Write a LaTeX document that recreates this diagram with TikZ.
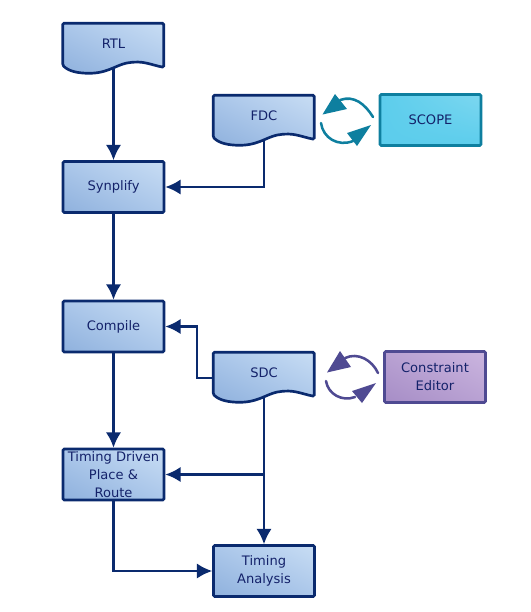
\documentclass[tikz,border=0pt]{standalone}
\usepackage{fontspec}
\setmainfont{DejaVu Sans}
\usetikzlibrary{arrows.meta,backgrounds,calc,shadings}
\definecolor{navy}{HTML}{0A2A6E}
\definecolor{inktext}{HTML}{14226A}
\definecolor{bluelo}{HTML}{8FB1DD}
\definecolor{bluemid}{HTML}{ABC7EA}
\definecolor{bluehi}{HTML}{C8DDF4}
\definecolor{tealline}{HTML}{0E7F9F}
\definecolor{tealfill}{HTML}{5CCDEC}
\definecolor{purpline}{HTML}{4F4A92}
\definecolor{purplo}{HTML}{A68DC6}
\definecolor{purphi}{HTML}{CBB5DF}
\tikzset{
  x=0.75pt,y=-0.75pt,
  bluefill/.style={shade,lower left=bluelo,upper right=bluehi,lower right=bluemid,upper left=bluemid},
  lbl/.style={font=\fontsize{9.8}{13.5}\selectfont,text=inktext,align=center,inner xsep=0pt,inner ysep=-5pt},
  boxnode/.style={lbl,minimum width=75.75pt,minimum height=38.25pt,rounded corners=1pt,line width=2pt,draw=navy,bluefill},
  docbody/.style={lbl,minimum width=75.75pt,minimum height=33pt},
  docoutline/.style={line width=2pt,draw=navy,rounded corners=1pt,bluefill},
  scopebox/.style={boxnode,draw=tealline,lower left=tealfill,upper right=tealfill!80!white,lower right=tealfill,upper left=tealfill},
  editorbox/.style={boxnode,draw=purpline,lower left=purplo,upper right=purphi,lower right=purplo!50!purphi,upper left=purplo!50!purphi},
  conn/.style={line width=1.6pt,draw=navy,-{Latex[length=11.5pt,width=11.5pt]}},
  loopline/.style={line width=1.9pt,line cap=round},
}
\newcommand{\docshape}[1]{%
  \begin{pgfonlayer}{background}
  \begin{scope}[shift={(#1.south west)}]
    \shadedraw[docoutline] (0,-44) -- (101,-44) -- (101,0)
      .. controls (90,-2) and (82,-6) .. (70,-5)
      .. controls (55,-4) and (48,5) .. (28,6)
      .. controls (15,6) and (6,4) .. (0,-2) -- cycle;
  \end{scope}
  \end{pgfonlayer}}
\begin{document}
\begin{tikzpicture}
\useasboundingbox (0,0) rectangle (531,612);
\node[docbody] (rtl) at (113.5,45) {\raisebox{2.25pt}{RTL}};
\node[docbody] (fdc) at (264,117) {\raisebox{2.25pt}{FDC}};
\node[docbody] (sdc) at (264,374) {\raisebox{2.25pt}{SDC}};
\docshape{rtl}\docshape{fdc}\docshape{sdc}
\node[boxnode] (syn) at (113.5,187) {Synplify};
\node[boxnode] (cmp) at (113.5,326.5) {Compile};
\node[boxnode] (tdpr) at (113.5,474.5) {Timing Driven\\Place \&\\Route};
\node[boxnode] (ta) at (264,571) {Timing\\Analysis};
\node[scopebox] (scope) at (430.5,120) {SCOPE};
\node[editorbox] (editor) at (435,377) {Constraint\\Editor};
\coordinate (fdcturn) at (fdc.south |- syn.east);
\coordinate (sdcleft) at ($(sdc.west)+(0,4)$);
\coordinate (sdcturn) at ($(sdcleft)+(-16,0)$);
\coordinate (sdcmid) at (sdc.south |- tdpr.east);
\draw[conn] (rtl.south) -- (syn.north);
\draw[conn] (syn.south) -- (cmp.north);
\draw[conn] (cmp.south) -- (tdpr.north);
\draw[conn] (fdc.south) -- (fdcturn) -- (syn.east);
\draw[conn] (sdcleft) -- (sdcturn) |- (cmp.east);
\draw[conn] (sdc.south) -- (ta.north);
\draw[conn] (sdcmid) -- (tdpr.east);
\draw[conn] (tdpr.south) |- (ta.west);
% teal loop
\draw[loopline,tealline] (373,117) .. controls (365,104) and (354,95) .. (340,100);
\fill[tealline] (322.5,114.5) -- (335,94) -- (347,109) -- cycle;
\draw[loopline,tealline] (321,123) .. controls (323,138) and (338,147) .. (353,141);
\fill[tealline] (371,125) -- (347,133) -- (357,146) -- cycle;
% purple loop
\draw[loopline,purpline] (378,373) .. controls (372,360) and (358,352) .. (345,358);
\fill[purpline] (327,372.5) -- (340,351) -- (351,367) -- cycle;
\draw[loopline,purpline] (326,381) .. controls (328,394) and (342,402) .. (355,397);
\fill[purpline] (376,383) -- (352,391) -- (362,403) -- cycle;
\end{tikzpicture}
\end{document}
